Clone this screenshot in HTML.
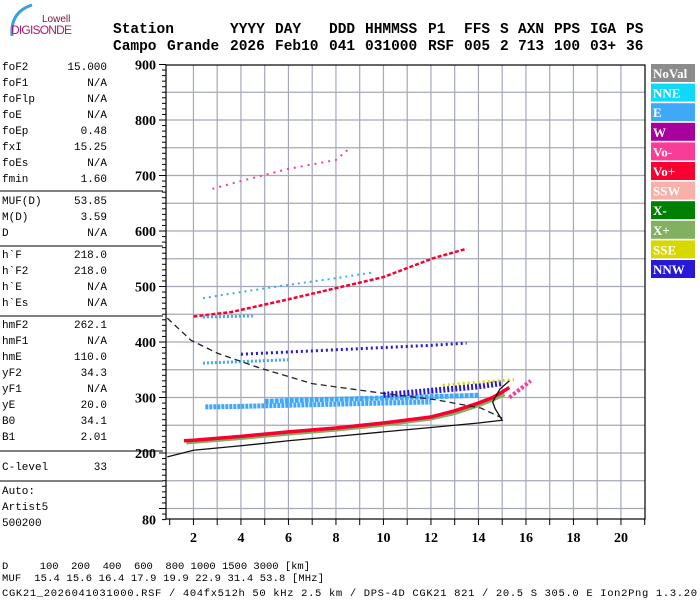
<!DOCTYPE html>
<html><head><meta charset="utf-8"><style>
body{margin:0;background:#fff}
svg{display:block}
.m{font-family:"Liberation Mono",monospace}
.b{font-family:"Liberation Serif",serif;font-weight:bold}
</style></head><body>
<svg id="c" width="700" height="600" viewBox="0 0 700 600">
<g>
<path d="M12 36 Q10 12 32 5" stroke="#3aa0e0" stroke-width="3" fill="none"/>
<text x="42" y="22" font-family="Liberation Sans,sans-serif" font-size="10" fill="#7a1038">Lowell</text>
<text x="11" y="34" font-family="Liberation Sans,sans-serif" font-size="12" fill="#b0186a" textLength="61">DIGISONDE</text>
</g>
<g id="hdr" class="m" font-weight="bold" font-size="14.5"></g>
<g id="left" class="m" font-size="11"></g>
<g id="grid"></g>
<g id="marks"></g>
<g id="axes"></g>
<g id="legend"></g>
<g class="m" font-size="10.5">
<text x="2" y="569" textLength="308" xml:space="preserve">D     100  200  400  600  800 1000 1500 3000 [km]</text>
<text x="2" y="581" textLength="322" xml:space="preserve">MUF  15.4 15.6 16.4 17.9 19.9 22.9 31.4 53.8 [MHz]</text>
<text x="2" y="596" textLength="695">CGK21_2026041031000.RSF / 404fx512h 50 kHz 2.5 km / DPS-4D CGK21 821 / 20.5 S 305.0 E Ion2Png 1.3.20</text>
</g>
</svg>
<script>
const NS="http://www.w3.org/2000/svg";
const xTicks=[2,4,6,8,10,12,14,16,18,20];
const yTicks=[900,800,700,600,500,400,300,200,80];
const legendNames=["NoVal","NNE","E","W","Vo-","Vo+","SSW","X-","X+","SSE","NNW"];
const legendColors=["#8c8c8c","#10d8f8","#40a8f8","#a8009c","#f83c98","#f80030","#f8b0a8","#008000","#80b060","#d8d800","#2818d8"];
const oF=[1.6,2,4,6,8,10,12,13,14,14.6,15,15.3];
const oH=[222,223,230,238,245,254,265,276,290,300,310,318];
const xF=[1.7,2,4,6,8,10,12,13,14,14.6,15.1];
const xH=[219,220,227,235,242,251,262,272,286,296,306];
const realF=[0.9,2,4,6,8,10,12,14,15,14.7,14.6,14.9,15.3];
const realH=[193,205,213,222,230,238,246,254,259,280,292,315,330];
const dashF=[0.9,1.9,3,4.8,7,9.9,12.2,14.1,15];
const dashH=[443,403,380,353,325,308,296,281,263];
const e1F=[2.5,4,6,8,10,12];
const e1H=[283,284,286,288,290,292];
const e2F=[5,7,9,11,12.5,14];
const e2H=[293,296,298,300,302,304];
const nnwF=[10,11,12,13,14,15];
const nnwH=[305,308,312,316,320,326];
const sseF=[12.5,13.5,14.5,15.5];
const sseH=[322,326,329,332];
const voF=[15.3,15.6,15.9,16.2];
const voH=[300,310,320,330];
const hop2F=[2,3.6,6,8,10,12.1,13.5];
const hop2H=[446,454,477,497,517,551,568];
const hop2bF=[2.4,4,6,8,9.5];
const hop2bH=[479,490,503,515,525];
const hop3F=[2.8,4,6,8,8.6];
const hop3H=[676,690,712,728,750];
const m3F=[4,6,8,10,12,13.5];
const m3H=[378,382,386,390,394,398];
const lowF=[2.4,6];
const lowH=[362,368];
const l450F=[2.4,4.5];
const l450H=[445,447];
const X=f=>169.7+(f-1)*23.75;
const Y=h=>453-(h-200)*0.555;
function el(tag,at,parent){const e=document.createElementNS(NS,tag);for(const k in at)e.setAttribute(k,at[k]);parent.appendChild(e);return e;}
const grid=document.getElementById('grid'),axes=document.getElementById('axes'),marks=document.getElementById('marks');
for(let f=2;f<=20;f++){const l=el('line',{x1:X(f),x2:X(f),y1:65,y2:519,stroke:'#a4a8b8','stroke-width':1.2},grid);

}
for(let h=850;h>=100;h-=50){const l=el('line',{x1:166,x2:645,y1:Y(h),y2:Y(h),stroke:'#a4a8b8','stroke-width':1.2},grid);

}
el('rect',{x:166,y:65,width:479,height:454,fill:'none',stroke:'#000','stroke-width':1.2},axes);
for(let h=80;h<=900;h+=10){const t=el('line',{x1:h%100===0?159:162,x2:166,y1:Y(h),y2:Y(h),stroke:'#000'},axes);

}
for(let f=1;f<=21;f++){const t=el('line',{x1:X(f),x2:X(f),y1:519,y2:525,stroke:'#000'},axes);

}
yTicks.forEach(v=>{const t=el('text',{x:156,y:Y(v)+5,'text-anchor':'end','font-size':14,class:'b'},axes);t.textContent=v;

});
xTicks.forEach(v=>{const t=el('text',{x:X(v),y:542,'text-anchor':'middle','font-size':14,class:'b'},axes);t.textContent=v;

});
function trace(F,H,color,w,dash,name){const p=el('polyline',{points:F.map((f,i)=>X(f)+','+Y(H[i])).join(' '),fill:'none',stroke:color,'stroke-width':w},marks);
if(dash)p.setAttribute('stroke-dasharray',dash);

}
trace(e1F,e1H,'#40a8f8',5,'3 1','e-trace-lower');
trace(e2F,e2H,'#40a8f8',5,'4 1','e-trace-upper');
trace(nnwF,nnwH,'#2818d8',6,'2 2','nnw-trace');
trace(sseF,sseH,'#d8d800',3,'2 3','sse-trace');
trace(voF,voH,'#f83c98',4,'3 2','vo-minus-trace');
trace(hop2bF,hop2bH,'#40a8f8',2,'2 4','second-hop-e');
trace(hop2F,hop2H,'#f80030',2.5,'4 2','second-hop-o');
trace(hop3F,hop3H,'#f83c98',2,'2 5','third-hop-o');
trace(m3F,m3H,'#2818d8',3,'2 3','multi-hop-nnw');
trace(lowF,lowH,'#40a8f8',3,'2 2','e-low-band');
trace(l450F,l450H,'#40a8f8',3,'2 2','e-band-450');
trace(xF,xH,'#80b060',4,null,'x-trace');
trace(oF,oH,'#f80030',3.5,null,'o-trace');
trace(realF,realH,'#111',1.3,null,'real-height-profile');
trace(dashF,dashH,'#222',1.3,'6 4','model-profile');
const lg=document.getElementById('legend');
legendNames.forEach((n,i)=>{const y=64+i*19.6;
const r=el('rect',{x:651,y:y,width:44,height:18,fill:legendColors[i]},lg);


const t=el('text',{x:653,y:y+14,'font-size':13,class:'b',fill:'#fff'},lg);t.textContent=n;

});
const hdr=document.getElementById('hdr');
const row1=[["Station",113],["YYYY",230],["DAY",275],["DDD",329],["HHMMSS",365],["P1",428],["FFS",464],["S",500],["AXN",518],["PPS",554],["IGA",590],["PS",626]];
const row2=[["Campo",113],["Grande",167],["2026",230],["Feb10",275],["041",329],["031000",365],["RSF",428],["005",464],["2",500],["713",518],["100",554],["03+",590],["36",626]];
row1.forEach(([s,x])=>{const t=el('text',{x:x,y:33},hdr);t.textContent=s;

});
row2.forEach(([s,x])=>{const t=el('text',{x:x,y:50},hdr);t.textContent=s;

});
const lp=document.getElementById('left');
const params=[["foF2","15.000",70],["foF1","N/A",86],["foFlp","N/A",102],["foE","N/A",118],["foEp","0.48",134],["fxI","15.25",150],["foEs","N/A",166],["fmin","1.60",182],
["MUF(D)","53.85",204],["M(D)","3.59",220],["D","N/A",236],
["h`F","218.0",258],["h`F2","218.0",274],["h`E","N/A",290],["h`Es","N/A",306],
["hmF2","262.1",328],["hmF1","N/A",344],["hmE","110.0",360],["yF2","34.3",376],["yF1","N/A",392],["yE","20.0",408],["B0","34.1",424],["B1","2.01",440],
["C-level","33",470],["Auto:","",494],["Artist5","",510],["500200","",526]];
params.forEach(([k,v,y])=>{const a=el('text',{x:2,y:y},lp);a.textContent=k;


if(v){const b=el('text',{x:107,y:y,'text-anchor':'end'},lp);b.textContent=v;

}});
[191,246,316,451,481].forEach(y=>{const l=el('line',{x1:0,x2:163,y1:y,y2:y,stroke:'#000'},lp);

});
</script>
</body></html>
